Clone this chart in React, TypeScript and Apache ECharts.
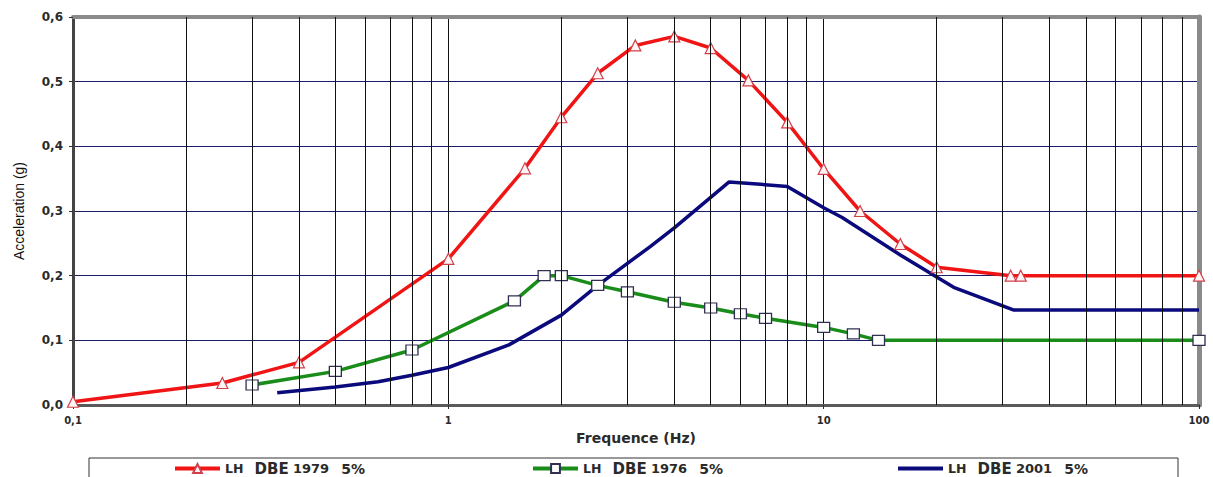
import React, { useEffect, useRef } from "react";
import * as echarts from "echarts";

const RED_NAME = "LH DBE 1979 5%";
const GREEN_NAME = "LH DBE 1976 5%";
const BLUE_NAME = "LH DBE 2001 5%";

const RED_X = [0.1, 0.25, 0.4, 1.0, 1.6, 2.0, 2.5, 3.15, 4.0, 5.0, 6.3, 8.0, 10, 12.5, 16, 20, 31.5, 33.5, 100];
const RED_Y = [0.005, 0.034, 0.066, 0.226, 0.366, 0.445, 0.513, 0.556, 0.57, 0.552, 0.502, 0.437, 0.365, 0.3, 0.249, 0.213, 0.2, 0.2, 0.2];

const GREEN_X = [0.3, 0.5, 0.8, 1.5, 1.8, 2.0, 2.5, 3.0, 4.0, 5.0, 6.0, 7.0, 10, 12, 14, 100];
const GREEN_Y = [0.031, 0.052, 0.085, 0.161, 0.2, 0.2, 0.185, 0.175, 0.159, 0.15, 0.141, 0.134, 0.12, 0.11, 0.1, 0.1];

const BLUE_X = [0.35, 0.5, 0.65, 0.8, 1.0, 1.45, 2.0, 2.5, 3.45, 4.0, 5.6, 8.0, 10, 11.2, 16, 20, 22.2, 32, 100];
const BLUE_Y = [0.019, 0.028, 0.036, 0.046, 0.058, 0.093, 0.139, 0.185, 0.245, 0.274, 0.345, 0.338, 0.305, 0.29, 0.232, 0.198, 0.182, 0.147, 0.147];

const MINOR_X = [0.2, 0.3, 0.4, 0.5, 0.6, 0.7, 0.8, 0.9, 2, 3, 4, 5, 6, 7, 8, 9, 20, 30, 40, 50, 60, 70, 80, 90];

const X_MIN = 0.1;
const X_MAX = 100;
const Y_MIN = 0;
const Y_MAX = 0.6;
const Y_STEP = 0.1;

const pairs = (xs: number[], ys: number[]) => xs.map((x, i) => [x, ys[i]]);
const comma = (v: number) => String(Number(v.toPrecision(6))).replace(".", ",");

const BOLD = "DejaVu Sans";

const legendFormatter = (name: string) => {
  const [lh, dbe, yr, pct] = name.split(" ");
  return `{a|${lh}} {b|${dbe}} {c|${yr}} {d|${pct}}`;
};

const legendRich = {
  a: { fontSize: 12.5, fontWeight: "bold", fontFamily: BOLD, color: "#2a2a2a" },
  b: { fontSize: 15, fontWeight: "bold", fontFamily: BOLD, color: "#2a2a2a", padding: [0, 0, 0, 7] },
  c: { fontSize: 13, fontWeight: "bold", fontFamily: BOLD, color: "#2a2a2a" },
  d: { fontSize: 14, fontWeight: "bold", fontFamily: BOLD, color: "#2a2a2a", padding: [0, 0, 0, 8] },
};

const makeLegend = (item: any, left: number) => ({
  data: [item],
  left,
  top: 461,
  orient: "horizontal",
  itemWidth: 45,
  itemHeight: 11,
  itemGap: 0,
  itemTextGap: 3,
  padding: 0,
  selectedMode: false,
  lineStyle: { width: 4 },
  formatter: legendFormatter,
  textStyle: { fontSize: 12, fontFamily: BOLD, fontWeight: "bold", color: "#2a2a2a", rich: legendRich },
});

export default function App() {
  const ref = useRef<HTMLDivElement>(null);

  useEffect(() => {
    if (!ref.current) return;
    const chart = echarts.init(ref.current, undefined, { renderer: "svg" });
    const option = {
      animation: false,
      backgroundColor: "#ffffff",
      grid: { left: 73, right: 14, top: 17, bottom: 72, containLabel: false },
      legend: [
        makeLegend({ name: RED_NAME }, 173),
        makeLegend({ name: GREEN_NAME }, 531),
        makeLegend({ name: BLUE_NAME, icon: "path://M0,0 H45 V4 H0 Z" }, 898),
      ],
      graphic: [
        {
          type: "rect",
          shape: { x: 89, y: 458, width: 1089, height: 40 },
          style: { fill: "none", stroke: "#333333", lineWidth: 1 },
          silent: true,
        },
      ],
      xAxis: [
        {
          type: "log",
          logBase: 10,
          min: X_MIN,
          max: X_MAX,
          name: "Frequence (Hz)",
          nameLocation: "middle",
          nameGap: 26,
          nameTextStyle: { fontFamily: BOLD, fontWeight: "bold", fontSize: 14, color: "#2a2a2a" },
          axisLine: { show: true, onZero: false, lineStyle: { color: "#5a5a5a", width: 3 } },
          axisTick: { show: true, length: 4, lineStyle: { color: "#333", width: 1 } },
          axisLabel: {
            fontFamily: BOLD,
            fontWeight: "bold",
            fontSize: 10,
            color: "#2a2a2a",
            margin: 10,
            formatter: (v: number) => comma(v),
          },
          splitLine: { show: true, lineStyle: { color: "#111111", width: 1 } },
          minorTick: { show: false },
        },
        {
          type: "log",
          logBase: 10,
          min: X_MIN,
          max: X_MAX,
          position: "top",
          axisLine: { show: true, onZero: false, lineStyle: { color: "#8a8a8a", width: 4 } },
          axisTick: { show: false },
          axisLabel: { show: false },
          splitLine: { show: false },
        },
      ],
      yAxis: [
        {
          type: "value",
          min: Y_MIN,
          max: Y_MAX,
          interval: Y_STEP,
          name: "Acceleration (g)",
          nameLocation: "middle",
          nameGap: 47,
          nameTextStyle: { fontFamily: "Liberation Sans", fontSize: 14, color: "#111111" },
          axisLine: { show: true, onZero: false, lineStyle: { color: "#444444", width: 3 } },
          axisTick: { show: true, length: 4, lineStyle: { color: "#333", width: 1 } },
          axisLabel: {
            fontFamily: BOLD,
            fontWeight: "bold",
            fontSize: 12,
            color: "#2a2a2a",
            margin: 10,
            formatter: (v: number) => v.toFixed(1).replace(".", ","),
          },
          splitLine: { show: true, lineStyle: { color: "#1c1c6c", width: 1 } },
        },
        {
          type: "value",
          min: Y_MIN,
          max: Y_MAX,
          interval: Y_STEP,
          position: "right",
          axisLine: { show: true, onZero: false, lineStyle: { color: "#8a8a8a", width: 5 } },
          axisTick: { show: false },
          axisLabel: { show: false },
          splitLine: { show: false },
        },
      ],
      series: [
        {
          name: "minor-grid",
          type: "line",
          xAxisIndex: 0,
          yAxisIndex: 0,
          z: 1,
          silent: true,
          symbol: "none",
          lineStyle: { opacity: 0 },
          data: [[X_MIN, Y_MIN], [X_MAX, Y_MIN]],
          markLine: {
            silent: true,
            symbol: "none",
            animation: false,
            label: { show: false },
            lineStyle: { color: "#111111", width: 1, type: "solid" },
            data: MINOR_X.map((v) => ({ xAxis: v })),
          },
        },
        {
          name: GREEN_NAME,
          type: "line",
          xAxisIndex: 0,
          yAxisIndex: 0,
          z: 3,
          data: pairs(GREEN_X, GREEN_Y),
          symbol: "rect",
          symbolSize: [12, 10],
          showAllSymbol: true,
          itemStyle: { color: "#ffffff", borderColor: "#303050", borderWidth: 1.2 },
          lineStyle: { color: "#1a8c1a", width: 3.5 },
          color: "#1a8c1a",
        },
        {
          name: BLUE_NAME,
          type: "line",
          xAxisIndex: 0,
          yAxisIndex: 0,
          z: 3,
          data: pairs(BLUE_X, BLUE_Y),
          symbol: "none",
          showSymbol: false,
          lineStyle: { color: "#0a0a7c", width: 3.5 },
          itemStyle: { color: "#0a0a7c" },
          color: "#0a0a7c",
        },
        {
          name: RED_NAME,
          type: "line",
          xAxisIndex: 0,
          yAxisIndex: 0,
          z: 4,
          data: pairs(RED_X, RED_Y),
          symbol: "triangle",
          symbolSize: 11,
          showAllSymbol: true,
          itemStyle: { color: "#fff4f4", borderColor: "#d0404a", borderWidth: 1.2 },
          lineStyle: { color: "#f01414", width: 3.5 },
          color: "#f01414",
        },
      ],
    };
    chart.setOption(option as any);
    return () => chart.dispose();
  }, []);

  return (
    <div
      ref={ref}
      style={{ position: "fixed", left: 0, top: 0, width: 1213, height: 477, background: "#fff" }}
    />
  );
}
